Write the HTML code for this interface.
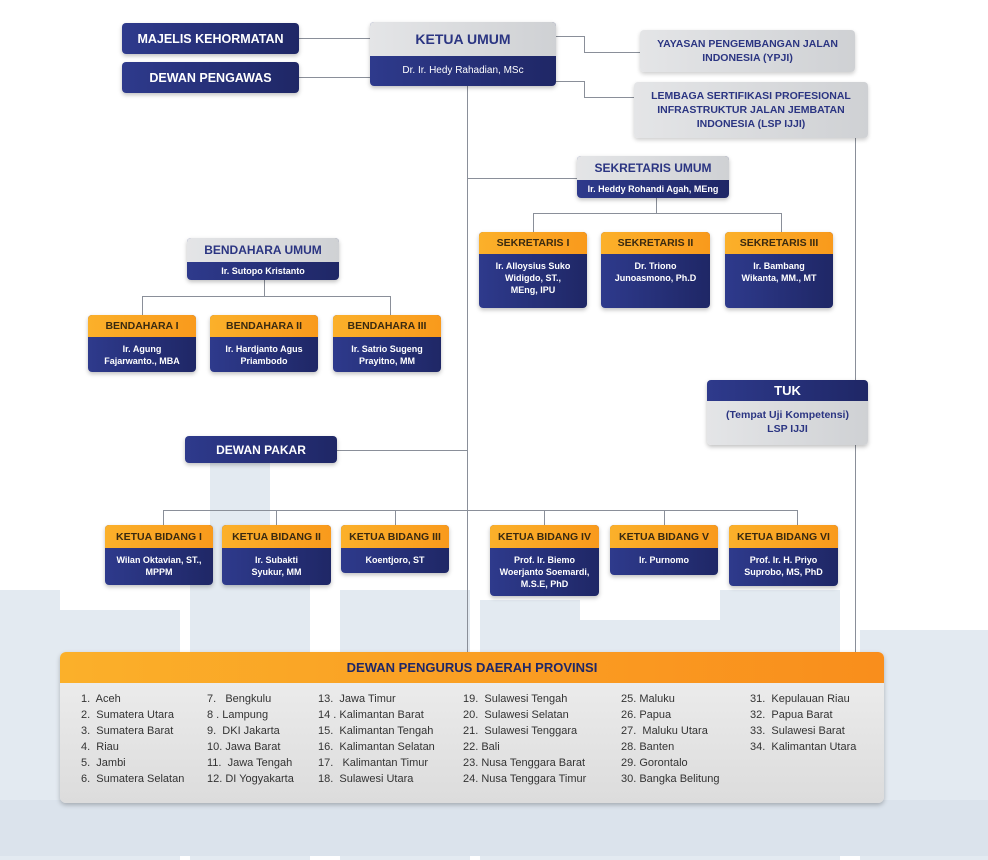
<!DOCTYPE html>
<html><head><meta charset="utf-8"><style>
*{margin:0;padding:0;box-sizing:border-box}
body{width:988px;height:856px;position:relative;overflow:hidden;background:#fff;font-family:"Liberation Sans",sans-serif}
.a{position:absolute}
.bg{position:absolute;background:#e3eaf1}
.l{position:absolute;background:#8a8f99}
.navy{background:linear-gradient(90deg,#2e3a8c,#1f2766);color:#fff;font-weight:bold;display:flex;align-items:center;justify-content:center;text-align:center;border-radius:4px;box-shadow:0 2px 4px rgba(0,0,0,.25)}
.gray{background:linear-gradient(90deg,#e4e5e7,#cfd1d4);color:#2b3582;font-weight:bold;display:flex;align-items:center;justify-content:center;text-align:center;border-radius:4px;box-shadow:0 2px 4px rgba(0,0,0,.2)}
.box{position:absolute;border-radius:4px;overflow:hidden;box-shadow:0 2px 4px rgba(0,0,0,.25);background:linear-gradient(90deg,#2e3a8c,#1f2766)}
.box .h{display:flex;align-items:center;justify-content:center;font-weight:bold;color:#3a2a10;font-size:10.5px}
.box .o{background:linear-gradient(90deg,#fbb02a,#f99a1c)}
.box .g{background:linear-gradient(90deg,#e4e5e7,#cfd1d4);color:#2b3582}
.box .b{color:#fff;font-size:9px;font-weight:bold;text-align:center;line-height:12px;padding-top:6px}
.dpd td{font-size:11px;color:#333;height:16px;white-space:nowrap}
</style></head><body>
<div class="bg" style="left:210px;top:460px;width:60px;height:400px"></div>
<div class="bg" style="left:190px;top:560px;width:120px;height:300px"></div>
<div class="bg" style="left:0;top:590px;width:60px;height:270px"></div>
<div class="bg" style="left:60px;top:610px;width:120px;height:250px"></div>
<div class="bg" style="left:340px;top:590px;width:130px;height:270px"></div>
<div class="bg" style="left:480px;top:600px;width:100px;height:260px"></div>
<div class="bg" style="left:580px;top:620px;width:140px;height:240px"></div>
<div class="bg" style="left:720px;top:590px;width:120px;height:270px"></div>
<div class="bg" style="left:860px;top:630px;width:128px;height:230px"></div>
<div class="bg" style="left:0;top:800px;width:988px;height:56px;background:#dbe3ec"></div>

<div class="l" style="left:299px;top:38px;width:71px;height:1px"></div>
<div class="l" style="left:299px;top:77px;width:71px;height:1px"></div>
<div class="l" style="left:556px;top:36px;width:28px;height:1px"></div>
<div class="l" style="left:584px;top:36px;width:1px;height:16px"></div>
<div class="l" style="left:584px;top:52px;width:56px;height:1px"></div>
<div class="l" style="left:556px;top:81px;width:28px;height:1px"></div>
<div class="l" style="left:584px;top:81px;width:1px;height:16px"></div>
<div class="l" style="left:584px;top:97px;width:50px;height:1px"></div>
<div class="l" style="left:467px;top:86px;width:1px;height:566px"></div>
<div class="l" style="left:855px;top:138px;width:1px;height:514px"></div>
<div class="l" style="left:467px;top:178px;width:110px;height:1px"></div>
<div class="l" style="left:656px;top:198px;width:1px;height:15px"></div>
<div class="l" style="left:533px;top:213px;width:249px;height:1px"></div>
<div class="l" style="left:533px;top:213px;width:1px;height:19px"></div>
<div class="l" style="left:781px;top:213px;width:1px;height:19px"></div>
<div class="l" style="left:264px;top:280px;width:1px;height:16px"></div>
<div class="l" style="left:142px;top:296px;width:249px;height:1px"></div>
<div class="l" style="left:142px;top:296px;width:1px;height:19px"></div>
<div class="l" style="left:390px;top:296px;width:1px;height:19px"></div>
<div class="l" style="left:337px;top:450px;width:130px;height:1px"></div>
<div class="l" style="left:163px;top:510px;width:635px;height:1px"></div>
<div class="l" style="left:163px;top:510px;width:1px;height:15px"></div>
<div class="l" style="left:276px;top:510px;width:1px;height:15px"></div>
<div class="l" style="left:395px;top:510px;width:1px;height:15px"></div>
<div class="l" style="left:544px;top:510px;width:1px;height:15px"></div>
<div class="l" style="left:664px;top:510px;width:1px;height:15px"></div>
<div class="l" style="left:797px;top:510px;width:1px;height:15px"></div>

<div class="a navy" style="left:122px;top:23px;width:177px;height:31px;font-size:12.5px">MAJELIS KEHORMATAN</div>
<div class="a navy" style="left:122px;top:62px;width:177px;height:31px;font-size:12.5px">DEWAN PENGAWAS</div>
<div class="box" style="left:370px;top:22px;width:186px;height:64px"><div class="h g" style="height:34px;font-size:14px">KETUA UMUM</div><div class="b" style="font-size:10px;padding-top:9px;font-weight:normal">Dr. Ir. Hedy Rahadian, MSc</div></div>
<div class="a gray" style="left:640px;top:30px;width:215px;height:42px;font-size:10.5px;line-height:14px">YAYASAN PENGEMBANGAN JALAN<br>INDONESIA (YPJI)</div>
<div class="a gray" style="left:634px;top:82px;width:234px;height:56px;font-size:10.5px;line-height:14px">LEMBAGA SERTIFIKASI PROFESIONAL<br>INFRASTRUKTUR JALAN JEMBATAN<br>INDONESIA (LSP IJJI)</div>

<div class="box" style="left:577px;top:156px;width:152px;height:42px"><div class="h g" style="height:24px;font-size:12px">SEKRETARIS UMUM</div><div class="b" style="padding-top:3px">Ir. Heddy Rohandi Agah, MEng</div></div>
<div class="box" style="left:479px;top:232px;width:108px;height:76px"><div class="h o" style="height:22px">SEKRETARIS I</div><div class="b">Ir. Alloysius Suko<br>Widigdo, ST.,<br>MEng, IPU</div></div>
<div class="box" style="left:601px;top:232px;width:109px;height:76px"><div class="h o" style="height:22px">SEKRETARIS II</div><div class="b">Dr. Triono<br>Junoasmono, Ph.D</div></div>
<div class="box" style="left:725px;top:232px;width:108px;height:76px"><div class="h o" style="height:22px">SEKRETARIS III</div><div class="b">Ir. Bambang<br>Wikanta, MM., MT</div></div>

<div class="box" style="left:187px;top:238px;width:152px;height:42px"><div class="h g" style="height:24px;font-size:12px">BENDAHARA UMUM</div><div class="b" style="padding-top:3px">Ir. Sutopo Kristanto</div></div>
<div class="box" style="left:88px;top:315px;width:108px;height:57px"><div class="h o" style="height:22px">BENDAHARA I</div><div class="b">Ir. Agung<br>Fajarwanto., MBA</div></div>
<div class="box" style="left:210px;top:315px;width:108px;height:57px"><div class="h o" style="height:22px">BENDAHARA II</div><div class="b">Ir. Hardjanto Agus<br>Priambodo</div></div>
<div class="box" style="left:333px;top:315px;width:108px;height:57px"><div class="h o" style="height:22px">BENDAHARA III</div><div class="b">Ir. Satrio Sugeng<br>Prayitno, MM</div></div>

<div class="box" style="left:707px;top:380px;width:161px;height:65px;background:linear-gradient(90deg,#e4e5e7,#cfd1d4)"><div class="h" style="height:21px;font-size:13px;color:#fff;background:linear-gradient(90deg,#2e3a8c,#1f2766)">TUK</div><div class="b" style="color:#2b3582;font-size:10.5px;line-height:14px;padding-top:7px">(Tempat Uji Kompetensi)<br>LSP IJJI</div></div>

<div class="a navy" style="left:185px;top:436px;width:152px;height:27px;font-size:12px">DEWAN PAKAR</div>

<div class="box" style="left:105px;top:525px;width:108px;height:60px"><div class="h o" style="height:23px">KETUA BIDANG I</div><div class="b">Wilan Oktavian, ST.,<br>MPPM</div></div>
<div class="box" style="left:222px;top:525px;width:109px;height:60px"><div class="h o" style="height:23px">KETUA BIDANG II</div><div class="b">Ir. Subakti<br>Syukur, MM</div></div>
<div class="box" style="left:341px;top:525px;width:108px;height:48px"><div class="h o" style="height:23px">KETUA BIDANG III</div><div class="b">Koentjoro, ST</div></div>
<div class="box" style="left:490px;top:525px;width:109px;height:71px"><div class="h o" style="height:23px">KETUA BIDANG IV</div><div class="b">Prof. Ir. Biemo<br>Woerjanto Soemardi,<br>M.S.E, PhD</div></div>
<div class="box" style="left:610px;top:525px;width:108px;height:50px"><div class="h o" style="height:23px">KETUA BIDANG V</div><div class="b">Ir. Purnomo</div></div>
<div class="box" style="left:729px;top:525px;width:109px;height:61px"><div class="h o" style="height:23px">KETUA BIDANG VI</div><div class="b">Prof. Ir. H. Priyo<br>Suprobo, MS, PhD</div></div>

<div class="a" style="left:60px;top:652px;width:824px;height:151px;border-radius:6px;overflow:hidden;background:linear-gradient(180deg,#efefef,#dcdcdc);box-shadow:0 2px 5px rgba(0,0,0,.25)">
<div style="height:31px;background:linear-gradient(90deg,#fbb02a,#f98e1c);display:flex;align-items:center;justify-content:center;font-weight:bold;font-size:13px;color:#1f2766">DEWAN PENGURUS DAERAH PROVINSI</div>
</div>
<div class="a dpd" style="left:81px;top:691px"><table cellspacing="0" cellpadding="0"><tr><td>1.&nbsp; Aceh</td></tr><tr><td>2.&nbsp; Sumatera Utara</td></tr><tr><td>3.&nbsp; Sumatera Barat</td></tr><tr><td>4.&nbsp; Riau</td></tr><tr><td>5.&nbsp; Jambi</td></tr><tr><td>6.&nbsp; Sumatera Selatan</td></tr></table></div>
<div class="a dpd" style="left:207px;top:691px"><table cellspacing="0" cellpadding="0"><tr><td>7.&nbsp;&nbsp; Bengkulu</td></tr><tr><td>8 . Lampung</td></tr><tr><td>9.&nbsp; DKI Jakarta</td></tr><tr><td>10. Jawa Barat</td></tr><tr><td>11.&nbsp; Jawa Tengah</td></tr><tr><td>12. DI Yogyakarta</td></tr></table></div>
<div class="a dpd" style="left:318px;top:691px"><table cellspacing="0" cellpadding="0"><tr><td>13.&nbsp; Jawa Timur</td></tr><tr><td>14 . Kalimantan Barat</td></tr><tr><td>15.&nbsp; Kalimantan Tengah</td></tr><tr><td>16.&nbsp; Kalimantan Selatan</td></tr><tr><td>17.&nbsp;&nbsp; Kalimantan Timur</td></tr><tr><td>18.&nbsp; Sulawesi Utara</td></tr></table></div>
<div class="a dpd" style="left:463px;top:691px"><table cellspacing="0" cellpadding="0"><tr><td>19.&nbsp; Sulawesi Tengah</td></tr><tr><td>20.&nbsp; Sulawesi Selatan</td></tr><tr><td>21.&nbsp; Sulawesi Tenggara</td></tr><tr><td>22. Bali</td></tr><tr><td>23. Nusa Tenggara Barat</td></tr><tr><td>24. Nusa Tenggara Timur</td></tr></table></div>
<div class="a dpd" style="left:621px;top:691px"><table cellspacing="0" cellpadding="0"><tr><td>25. Maluku</td></tr><tr><td>26. Papua</td></tr><tr><td>27.&nbsp; Maluku Utara</td></tr><tr><td>28. Banten</td></tr><tr><td>29. Gorontalo</td></tr><tr><td>30. Bangka Belitung</td></tr></table></div>
<div class="a dpd" style="left:750px;top:691px"><table cellspacing="0" cellpadding="0"><tr><td>31.&nbsp; Kepulauan Riau</td></tr><tr><td>32.&nbsp; Papua Barat</td></tr><tr><td>33.&nbsp; Sulawesi Barat</td></tr><tr><td>34.&nbsp; Kalimantan Utara</td></tr></table></div>
</body></html>
